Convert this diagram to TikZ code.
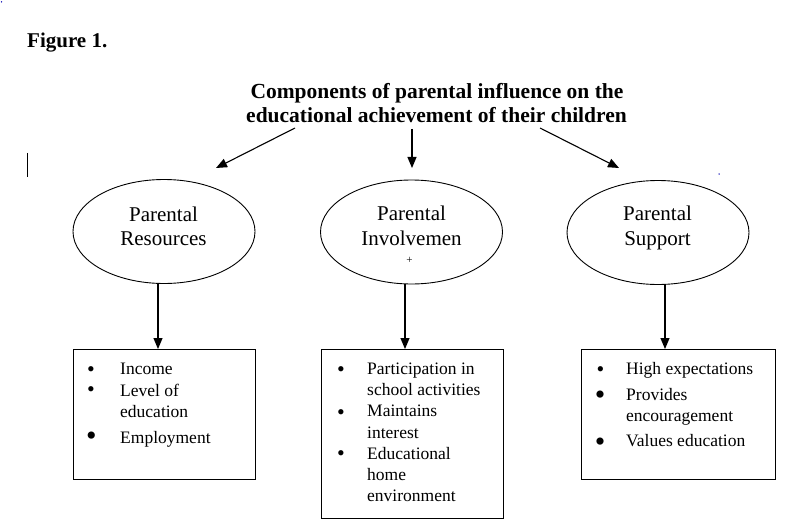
\documentclass[tikz,border=0pt]{standalone}
\usepackage{fontspec}
\setmainfont{Liberation Serif}
\usetikzlibrary{arrows.meta,shapes.geometric}
\begin{document}
\begin{tikzpicture}[x=1pt,y=-1pt,
  arr/.style={-{Triangle[length=11pt,width=9pt]}, line width=1.1pt},
  oval/.style={draw, ellipse, line width=0.9pt, minimum width=182pt, minimum height=104pt, inner sep=0pt},
  listbox/.style={draw, rectangle, line width=1pt, anchor=north west, inner sep=0pt, minimum width=182pt},
  ttext/.style={anchor=base, font=\fontsize{21.5}{24}\selectfont\bfseries, inner sep=0pt},
  etext/.style={anchor=base, font=\fontsize{21}{24}\selectfont, inner sep=0pt},
  btext/.style={anchor=base west, font=\fontsize{17.5}{21}\selectfont, inner sep=0pt},
  sbul/.style={anchor=base, font=\fontsize{22}{22}\selectfont, inner sep=0pt},
  lbul/.style={anchor=base, font=\fontsize{30}{30}\selectfont, inner sep=0pt},
  speck/.style={fill=blue!70!black, inner sep=0pt, minimum size=1.5pt, circle}
]
\useasboundingbox (0,0) rectangle (795,532);

% specks and cursor
\node[speck] (s1) at (1.5,2) {};
\node[speck] (s2) at (719,174) {};
\draw[line width=1pt] (27,153) -- (27,177);

% headings
\node[anchor=base west, font=\fontsize{21}{24}\selectfont\bfseries, inner sep=0pt] (fig) at (27,48) {Figure 1.};
\node[ttext] (t1) at (437,99) {Components of parental influence on the};
\node[ttext] (t2) at (436.5,123) {educational achievement of their children};

% ellipses
\node[oval] (e1) at (164,231.5) {};
\node[oval] (e2) at (411.5,232) {};
\node[oval] (e3) at (658,232.5) {};

\node[etext] (e1a) at (163.5,221) {Parental};
\node[etext] (e1b) at (163.5,245) {Resources};
\node[etext] (e2a) at (411.5,220) {Parental};
\node[etext] (e2b) at (411.5,245) {Involvemen};
\node[anchor=base, font=\fontsize{11}{11}\selectfont, inner sep=0pt] (e2c) at (409.5,263) {+};
\node[etext] (e3a) at (657.5,220) {Parental};
\node[etext] (e3b) at (657.5,245) {Support};

% title arrows
\coordinate (a1s) at (295,128);
\coordinate (a1e) at (216,168);
\coordinate (a2s) at (412,129);
\coordinate (a2e) at (412,168);
\coordinate (a3s) at (540,128);
\coordinate (a3e) at (619,168);
\draw[arr] (a1s) -- (a1e);
\draw[arr] (a2s) -- (a2e);
\draw[arr] (a3s) -- (a3e);

% boxes
\node[listbox, minimum height=130pt] (b1) at (73,349) {};
\node[listbox, minimum height=169pt] (b2) at (321,349) {};
\node[listbox, minimum width=194pt, minimum height=130pt] (b3) at (581,349) {};

% ellipse to box arrows
\coordinate (x1) at (158,0);
\coordinate (x2) at (405,0);
\coordinate (x3) at (665,0);
\draw[arr] (e1.south -| x1) -- (b1.north -| x1);
\draw[arr] (e2.south -| x2) -- (b2.north -| x2);
\draw[arr] (e3.south -| x3) -- (b3.north -| x3);

% box 1
\node[sbul] (p1) at (91,376.5) {•};
\node[sbul] (p2) at (91,396.5) {•};
\node[lbul] (p3) at (91.5,445.2) {•};
\node[btext] (l1) at (120,374) {Income};
\node[btext] (l2) at (120,396) {Level of};
\node[btext] (l3) at (120,417) {education};
\node[btext] (l4) at (120,443) {Employment};

% box 2
\node[sbul] (q1) at (341,376.5) {•};
\node[sbul] (q2) at (341,419.5) {•};
\node[sbul] (q3) at (341,460.5) {•};
\node[btext] (m1) at (367,374) {Participation in};
\node[btext] (m2) at (367,395) {school activities};
\node[btext] (m3) at (367,416) {Maintains};
\node[btext] (m4) at (367,438) {interest};
\node[btext] (m5) at (367,459) {Educational};
\node[btext] (m6) at (367,480) {home};
\node[btext] (m7) at (367,501) {environment};

% box 3
\node[sbul] (r1) at (600.5,376.5) {•};
\node[lbul] (r2) at (600,404.2) {•};
\node[lbul] (r3) at (600,451) {•};
\node[btext] (n1) at (626,374) {High expectations};
\node[btext] (n2) at (626,400) {Provides};
\node[btext] (n3) at (626,421) {encouragement};
\node[btext] (n4) at (626,446) {Values education};
\end{tikzpicture}
\end{document}
